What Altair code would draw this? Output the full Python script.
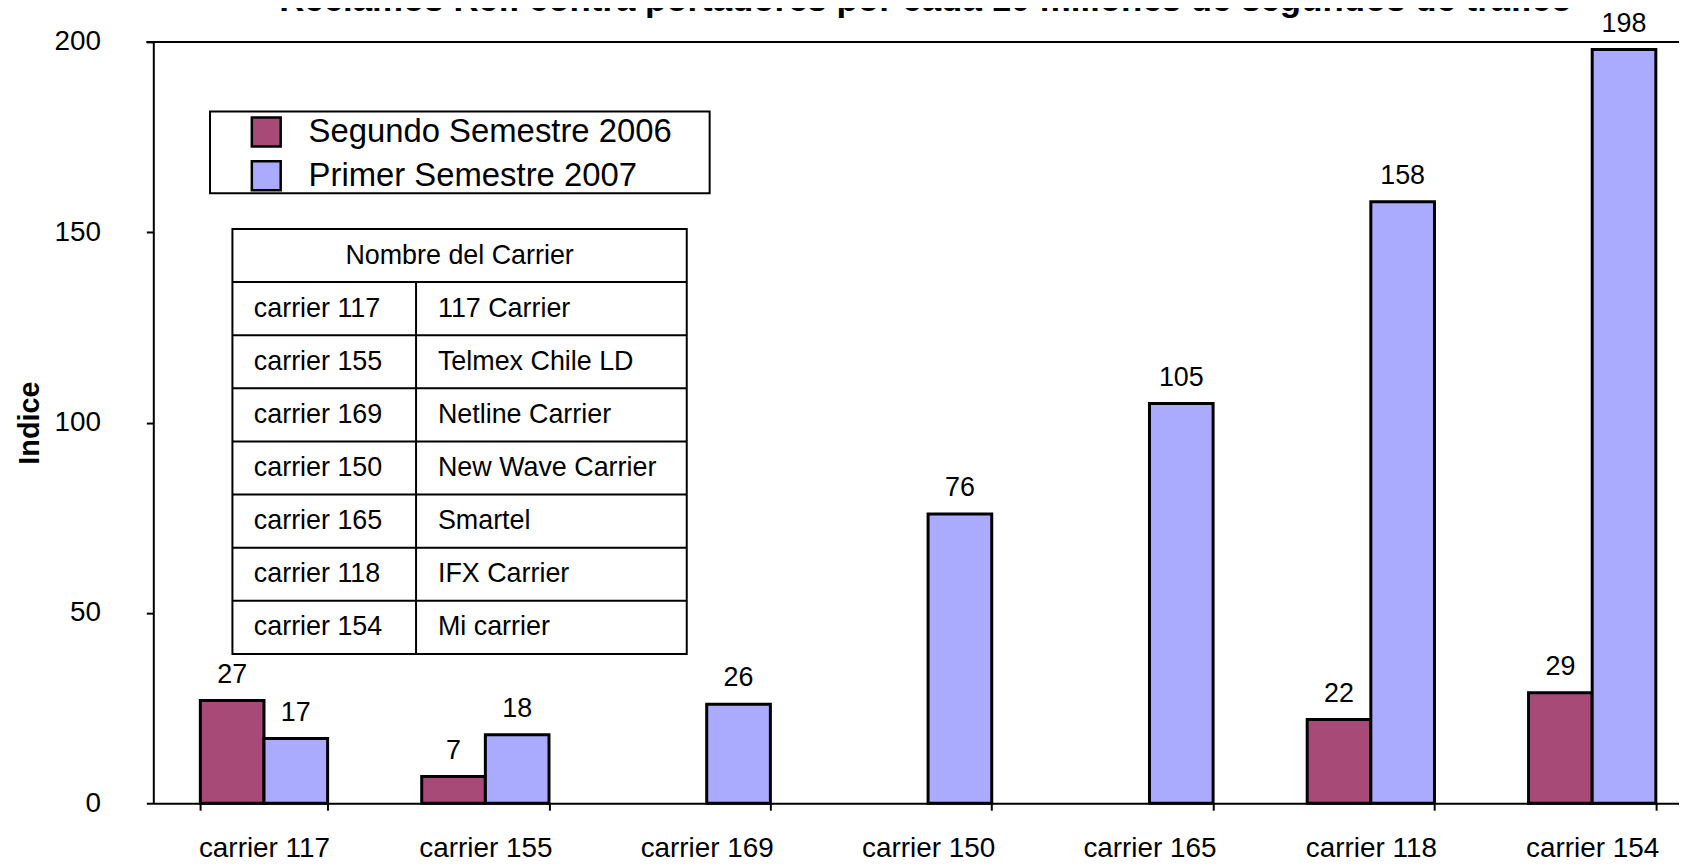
import altair as alt
import pandas as pd

# ---------------- data ----------------
carriers = ["carrier 117", "carrier 155", "carrier 169", "carrier 150",
            "carrier 165", "carrier 118", "carrier 154"]
carrier_names = ["117 Carrier", "Telmex Chile LD", "Netline Carrier",
                 "New Wave Carrier", "Smartel", "IFX Carrier", "Mi carrier"]
series = ["Segundo Semestre 2006", "Primer Semestre 2007"]
seg_2006 = [27, 7, None, None, None, 22, 29]
prim_2007 = [17, 18, 26, 76, 105, 158, 198]
colors = ["#A84A78", "#AAAAFF"]
y_ticks = [0, 50, 100, 150, 200]
title_text = "Reclamos Ref. contra portadores por cada 10 millones de segundos de tráfico"
y_title = "Indice"
table_header = "Nombre del Carrier"

FONT = "Liberation Sans"
W, H = 1533, 765
XR = 1557  # x range extends beyond the visible area (clipped like the reference)

rows = []
for c, a, b in zip(carriers, seg_2006, prim_2007):
    if a is not None:
        rows.append({"carrier": c, "serie": series[0], "valor": a})
    if b is not None:
        rows.append({"carrier": c, "serie": series[1], "valor": b})
df = pd.DataFrame(rows)

x_scale = alt.Scale(domain=carriers, range=[0, XR], paddingInner=0.425, paddingOuter=0.2125)
off_scale = alt.Scale(domain=series, paddingInner=0, paddingOuter=0)
y_scale = alt.Scale(domain=[0, 200], nice=False, zero=True)

x_enc = alt.X("carrier:N", sort=carriers, scale=x_scale, title=None,
              axis=alt.Axis(labelAngle=0, labelFontSize=28, labelPadding=25,
                            tickBand="extent", tickSize=7, tickWidth=2, tickColor="black",
                            domainColor="black", domainWidth=2, labelColor="black",
                            labelFont=FONT))
off_enc = alt.XOffset("serie:N", sort=series, scale=off_scale)

bars = alt.Chart(df).mark_bar(stroke="black", strokeWidth=3, opacity=1).encode(
    x=x_enc,
    xOffset=off_enc,
    y=alt.Y("valor:Q", scale=y_scale, title=y_title,
            axis=alt.Axis(values=y_ticks, grid=False, labelFontSize=28, labelPadding=46,
                          tickSize=7, tickWidth=2, tickColor="black",
                          domainColor="black", domainWidth=2, labelColor="black",
                          labelFont=FONT, titleFont=FONT, titleFontSize=29,
                          titleFontWeight="bold", titleColor="black",
                          titleAngle=270, titleX=-115, titleY=H / 2,
                          titleAlign="center", titleBaseline="alphabetic")),
    color=alt.Color("serie:N", sort=series,
                    scale=alt.Scale(domain=series, range=colors),
                    legend=alt.Legend(title=None, orient="none", legendX=97, legendY=74,
                                      symbolType="square", symbolSize=841,
                                      symbolStrokeColor="black", symbolStrokeWidth=2.5,
                                      symbolOpacity=1,
                                      labelFontSize=33, labelFont=FONT, labelColor="black",
                                      labelOffset=26, rowPadding=5, padding=0,
                                      symbolOffset=0, labelLimit=600)),
)

labels = alt.Chart(df).mark_text(dy=-18, baseline="alphabetic", fontSize=27,
                                 font=FONT, color="black").encode(
    x=alt.X("carrier:N", sort=carriers, scale=x_scale),
    xOffset=off_enc,
    y=alt.Y("valor:Q", scale=y_scale),
    text=alt.Text("valor:Q"),
)

top_rule = alt.Chart(pd.DataFrame({"v": [200]})).mark_rule(
    color="black", strokeWidth=2).encode(
    y=alt.Y("v:Q", scale=y_scale),
    x=alt.value(-7), x2=alt.value(XR),
)

title_mark = alt.Chart(pd.DataFrame({"t": [title_text]})).mark_text(
    fontSize=35, fontWeight="bold", font=FONT, color="black",
    align="center", baseline="alphabetic").encode(
    text="t:N", x=alt.value(776), y=alt.value(-31))

legend_box = alt.Chart(pd.DataFrame({"k": [0]})).mark_rect(
    fill="white", stroke="black", strokeWidth=2).encode(
    x=alt.value(57), x2=alt.value(559), y=alt.value(70), y2=alt.value(152))

main = alt.layer(legend_box, bars, labels, top_rule, title_mark)

# ---------------- lookup table ----------------
tbl_y = alt.Scale(domain=[0, 8], range=[188, 615], nice=False, zero=False)
TL, TD, TR = 79.5, 264, 536

tbl_frame = alt.Chart(pd.DataFrame({"top": [0], "bot": [8]})).mark_rect(
    fill="white", stroke="black", strokeWidth=2).encode(
    y=alt.Y("top:Q", scale=tbl_y, axis=None), y2="bot:Q",
    x=alt.value(TL), x2=alt.value(TR))

tbl_lines = alt.Chart(pd.DataFrame({"line": list(range(1, 8))})).mark_rule(
    color="black", strokeWidth=2).encode(
    y=alt.Y("line:Q", scale=tbl_y, axis=None),
    x=alt.value(TL), x2=alt.value(TR))

tbl_div = alt.Chart(pd.DataFrame({"a": [1], "b": [8]})).mark_rule(
    color="black", strokeWidth=2).encode(
    y=alt.Y("a:Q", scale=tbl_y, axis=None), y2="b:Q", x=alt.value(TD))

tbl_df = pd.DataFrame({"mid": [i + 1.5 for i in range(len(carriers))],
                       "carrier": carriers, "nombre": carrier_names})

tbl_head = alt.Chart(pd.DataFrame({"mid": [0.5], "h": [table_header]})).mark_text(
    fontSize=27, font=FONT, color="black", align="center", baseline="middle").encode(
    y=alt.Y("mid:Q", scale=tbl_y, axis=None), text="h:N",
    x=alt.value((TL + TR) / 2))

tbl_left = alt.Chart(tbl_df).mark_text(
    fontSize=27, font=FONT, color="black", align="left", baseline="middle").encode(
    y=alt.Y("mid:Q", scale=tbl_y, axis=None), text="carrier:N", x=alt.value(101))

tbl_right = alt.Chart(tbl_df).mark_text(
    fontSize=27, font=FONT, color="black", align="left", baseline="middle").encode(
    y=alt.Y("mid:Q", scale=tbl_y, axis=None), text="nombre:N", x=alt.value(286))

table = alt.layer(tbl_frame, tbl_lines, tbl_div, tbl_head, tbl_left, tbl_right)

chart = alt.layer(main, table).resolve_scale(y="independent").properties(
    width=W, height=H,
    autosize=alt.AutoSizeParams(type="none"),
    padding={"left": 146, "top": 32, "right": 0, "bottom": 59},
).configure_view(stroke=None).configure(font=FONT).configure_legend(strokeColor=None)

chart.save("out.html", embed_options={"renderer": "svg", "actions": False})
